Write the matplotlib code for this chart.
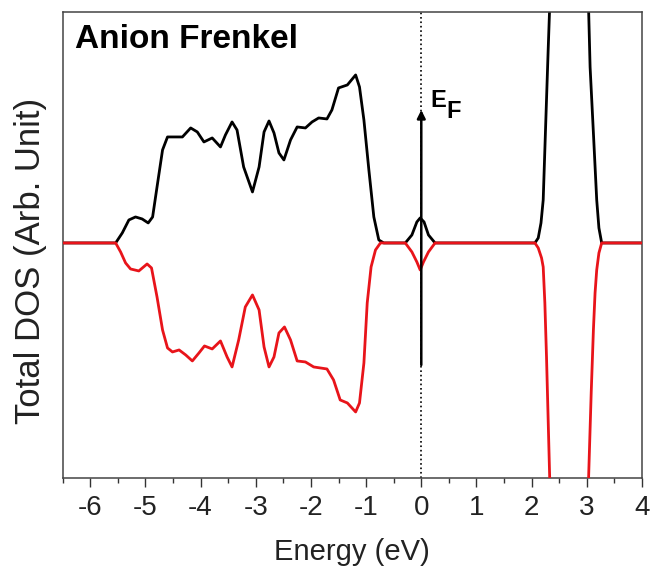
import numpy as np
import matplotlib
matplotlib.use("Agg")
import matplotlib.pyplot as plt
from matplotlib.ticker import MultipleLocator, NullLocator

plt.rcParams['font.family'] = ['Liberation Sans', 'DejaVu Sans']

# spin up (black), energy in eV, DOS in arbitrary units
up_E = [-6.5, -5.54, -5.42, -5.30, -5.18, -5.06, -4.95, -4.87, -4.79, -4.69,
        -4.60, -4.48, -4.33, -4.18, -4.06, -3.94, -3.79, -3.64, -3.55, -3.43,
        -3.34, -3.22, -3.06, -2.94, -2.85, -2.76, -2.67, -2.58, -2.49, -2.37,
        -2.25, -2.10, -1.98, -1.86, -1.71, -1.62, -1.50, -1.34, -1.19, -1.12,
        -1.04, -0.95, -0.86, -0.77, -0.68, -0.29, -0.17, -0.08, -0.02, 0.05,
        0.13, 0.25, 2.06, 2.12, 2.17, 2.21, 2.25, 2.30, 2.33, 2.68, 3.03,
        3.06, 3.12, 3.18, 3.22, 3.27, 4.0]
up_dos = [0, 0, 10, 23, 26, 24, 20, 26, 56, 93,
          106, 106, 106, 115, 111, 101, 105, 96, 108, 121,
          113, 76, 51, 76, 111, 122, 110, 90, 83, 103,
          116, 115, 121, 125, 124, 133, 155, 158, 168, 156,
          123, 73, 26, 3, 0, 0, 8, 21, 25, 21,
          8, 0, 0, 5, 20, 43, 110, 193, 240, 700, 240,
          176, 110, 43, 15, 0, 0]

# spin down (red)
dn_E = [-6.5, -5.54, -5.45, -5.36, -5.27, -5.12, -4.97, -4.89, -4.79, -4.69,
        -4.60, -4.51, -4.39, -4.27, -4.15, -4.03, -3.93, -3.79, -3.64, -3.52,
        -3.43, -3.31, -3.19, -3.06, -2.94, -2.85, -2.76, -2.67, -2.58, -2.48,
        -2.37, -2.25, -2.10, -1.95, -1.71, -1.59, -1.47, -1.34, -1.19, -1.12,
        -1.04, -0.98, -0.91, -0.83, -0.74, -0.29, -0.17, -0.08, -0.02, 0.04,
        0.13, 0.25, 2.06, 2.12, 2.18, 2.21, 2.24, 2.27, 2.33, 2.68, 3.03,
        3.08, 3.12, 3.15, 3.18, 3.22, 3.27, 4.0]
dn_dos = [0, 0, -9, -20, -26, -28, -21, -25, -54, -87,
          -105, -109, -107, -112, -118, -110, -103, -106, -98, -114,
          -124, -97, -64, -52, -67, -104, -124, -114, -90, -84,
          -97, -118, -119, -124, -126, -137, -157, -160, -169, -160,
          -120, -60, -24, -7, 0, 0, -9, -19, -27, -19,
          -9, 0, 0, -5, -15, -24, -60, -114, -240, -700, -240,
          -150, -87, -50, -27, -10, 0, 0]

xticks = [-6, -5, -4, -3, -2, -1, 0, 1, 2, 3, 4]

fig = plt.figure(figsize=(6.51, 5.69), dpi=100)
ax = fig.add_axes([0.0963, 0.160, 0.8898, 0.819])

ax.axvline(0, color='black', ls=':', lw=1.2, zorder=1)
ax.plot(up_E, up_dos, color='black', lw=2.0, solid_joinstyle='round', zorder=2)
ax.plot(dn_E, dn_dos, color='#e8141a', lw=2.0, solid_joinstyle='round', zorder=3)

# Fermi level arrow
ax.annotate('', xy=(0, 133), xytext=(0, -122),
            arrowprops=dict(arrowstyle='-|>', color='black', lw=1.8,
                            mutation_scale=12, shrinkA=0, shrinkB=0),
            zorder=4)
ax.text(0.16, 136, 'E', fontsize=17, fontweight='bold', va='baseline', ha='left')
ax.text(0.46, 125, 'F', fontsize=17, fontweight='bold', va='baseline', ha='left')

ax.text(0.021, 0.923, 'Anion Frenkel', transform=ax.transAxes, fontsize=24,
        fontweight='bold', va='baseline', ha='left')

ax.set_xlim(-6.5, 4)
ax.set_ylim(-235, 231)
ax.set_xticks(xticks)
ax.set_xticklabels([str(t) for t in xticks])
ax.xaxis.set_minor_locator(MultipleLocator(0.5))
ax.yaxis.set_major_locator(NullLocator())
ax.tick_params(axis='x', which='major', direction='out', length=6.5, width=1,
               labelsize=20, pad=6, colors='#333333', labelcolor='#222222')
ax.tick_params(axis='x', which='minor', direction='out', length=3.5, width=1,
               colors='#333333')
for s in ax.spines.values():
    s.set_color('#444444')
    s.set_linewidth(1.1)

ax.set_xlabel('Energy (eV)', fontsize=21, color='#222222', labelpad=12)
ax.set_ylabel('Total DOS (Arb. Unit)', fontsize=25, color='#222222')
ax.yaxis.set_label_coords(-0.027, 0.466)

fig.savefig('out.png', dpi=100)
